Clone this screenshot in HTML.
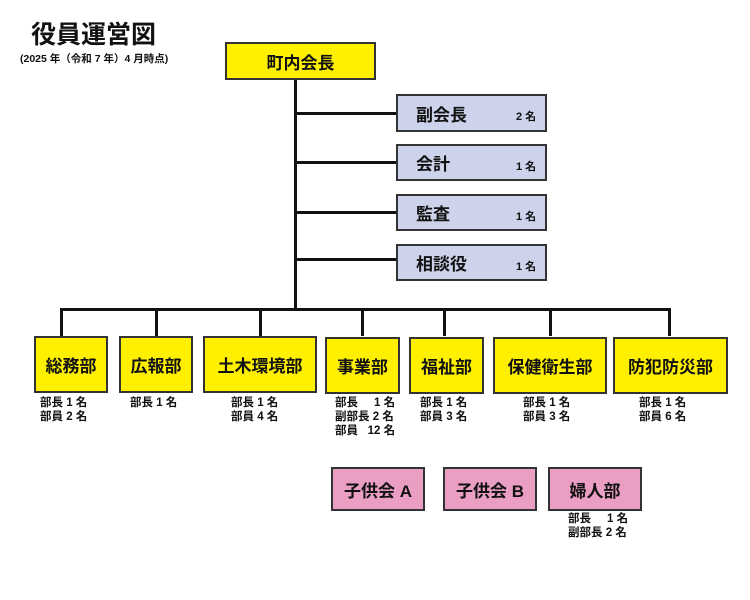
<!DOCTYPE html>
<html><head><meta charset="utf-8"><style>
body{margin:0;width:750px;height:600px;background:#fff;position:relative;overflow:hidden;font-family:"Liberation Sans","Noto Sans CJK JP",sans-serif;color:#111}
div{position:absolute;box-sizing:border-box}
.ln{background:#111}
.b{border:2px solid #333;display:flex;align-items:center;justify-content:center;font-weight:bold;font-size:17px}
.y{background:#fff000}
.p{background:#eb9ec4}
.g{background:#ccd3ea;justify-content:flex-start;padding-left:18px}
.g span{position:absolute;left:118px;font-size:11px;top:12px}
.t{font-size:11.5px;line-height:14px;font-weight:bold;white-space:pre}
</style></head><body>
<div style="left:31px;top:15px;font-size:25px;font-weight:bold">役員運営図</div>
<div style="left:20px;top:51px;font-size:10.5px;font-weight:bold;white-space:nowrap">(2025 年（令和 7 年）4 月時点)</div>

<div class="ln" style="left:294px;top:79px;width:3px;height:232px"></div>
<div class="ln" style="left:296px;top:112px;width:101px;height:3px"></div>
<div class="ln" style="left:296px;top:161px;width:101px;height:3px"></div>
<div class="ln" style="left:296px;top:211px;width:101px;height:3px"></div>
<div class="ln" style="left:296px;top:258px;width:101px;height:3px"></div>
<div class="ln" style="left:60px;top:308px;width:611px;height:3px"></div>
<div class="ln" style="left:60px;top:308px;width:3px;height:28px"></div>
<div class="ln" style="left:155px;top:308px;width:3px;height:28px"></div>
<div class="ln" style="left:259px;top:308px;width:3px;height:28px"></div>
<div class="ln" style="left:361px;top:308px;width:3px;height:28px"></div>
<div class="ln" style="left:443px;top:308px;width:3px;height:28px"></div>
<div class="ln" style="left:549px;top:308px;width:3px;height:28px"></div>
<div class="ln" style="left:668px;top:308px;width:3px;height:28px"></div>

<div class="b y" style="left:225px;top:42px;width:151px;height:38px">町内会長</div>

<div class="b g" style="left:396px;top:94px;width:151px;height:38px">副会長<span>2 名</span></div>
<div class="b g" style="left:396px;top:144px;width:151px;height:37px">会計<span>1 名</span></div>
<div class="b g" style="left:396px;top:194px;width:151px;height:37px">監査<span>1 名</span></div>
<div class="b g" style="left:396px;top:244px;width:151px;height:37px">相談役<span>1 名</span></div>

<div class="b y" style="left:34px;top:336px;width:74px;height:57px">総務部</div>
<div class="b y" style="left:119px;top:336px;width:74px;height:57px">広報部</div>
<div class="b y" style="left:203px;top:336px;width:114px;height:57px">土木環境部</div>
<div class="b y" style="left:325px;top:337px;width:75px;height:57px">事業部</div>
<div class="b y" style="left:409px;top:337px;width:75px;height:57px">福祉部</div>
<div class="b y" style="left:493px;top:337px;width:114px;height:57px">保健衛生部</div>
<div class="b y" style="left:613px;top:337px;width:115px;height:57px">防犯防災部</div>

<div class="t" style="left:40px;top:396px">部長 1 名
部員 2 名</div>
<div class="t" style="left:130px;top:396px">部長 1 名</div>
<div class="t" style="left:231px;top:396px">部長 1 名
部員 4 名</div>
<div class="t" style="left:335px;top:396px">部長     1 名
副部長 2 名
部員   12 名</div>
<div class="t" style="left:420px;top:396px">部長 1 名
部員 3 名</div>
<div class="t" style="left:523px;top:396px">部長 1 名
部員 3 名</div>
<div class="t" style="left:639px;top:396px">部長 1 名
部員 6 名</div>

<div class="b p" style="left:331px;top:467px;width:94px;height:44px">子供会 A</div>
<div class="b p" style="left:443px;top:467px;width:94px;height:44px">子供会 B</div>
<div class="b p" style="left:548px;top:467px;width:94px;height:44px">婦人部</div>
<div class="t" style="left:568px;top:512px">部長     1 名
副部長 2 名</div>
</body></html>
